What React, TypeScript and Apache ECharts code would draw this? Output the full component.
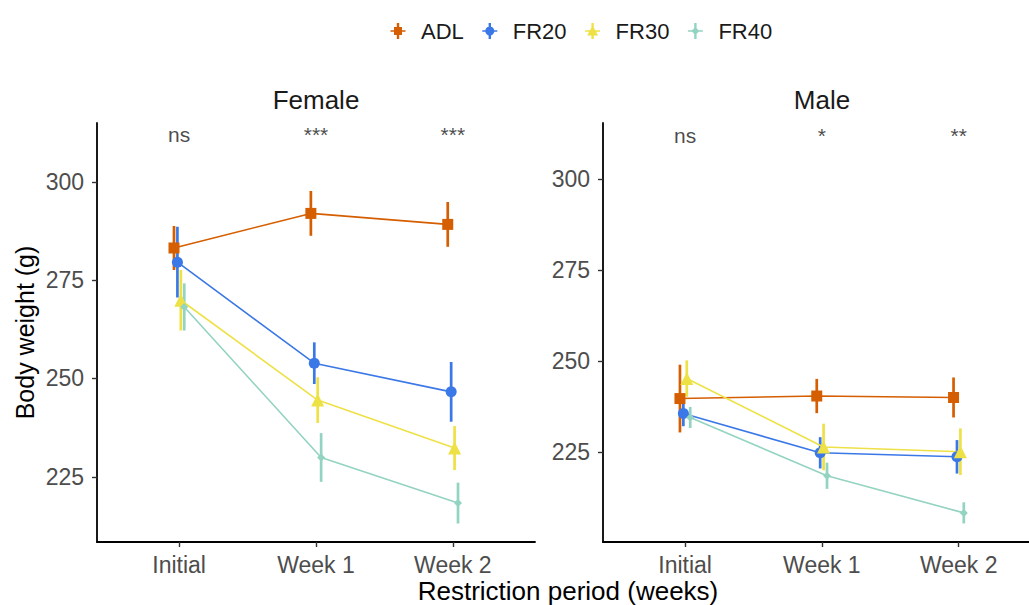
import React, { useEffect, useRef } from "react";
import * as echarts from "echarts";

const categories = ["Initial", "Week 1", "Week 2"];
const groups = ["ADL", "FR20", "FR30", "FR40"];
const yTicks = [225, 250, 275, 300];

// Female means and error half-widths
const femaleADL = [283.2, 292.0, 289.2];
const femaleADLErr = [5.6, 5.7, 5.7];
const femaleFR20 = [279.6, 253.9, 246.6];
const femaleFR20Err = [9.0, 5.3, 7.6];
const femaleFR30 = [269.9, 244.5, 232.3];
const femaleFR30Err = [7.7, 5.8, 5.6];
const femaleFR40 = [268.2, 229.9, 218.3];
const femaleFR40Err = [6.0, 6.2, 5.2];

// Male means and error half-widths
const maleADL = [239.8, 240.5, 240.1];
const maleADLErr = [9.3, 4.7, 5.5];
const maleFR20 = [235.7, 224.9, 223.8];
const maleFR20Err = [3.5, 4.3, 4.6];
const maleFR30 = [245.3, 226.5, 225.2];
const maleFR30Err = [5.0, 6.4, 6.4];
const maleFR40 = [234.6, 218.6, 208.4];
const maleFR40Err = [2.9, 3.6, 2.9];

// Significance labels
const femaleSig = ["ns", "***", "***"];
const maleSig = ["ns", "*", "**"];
const sigY = 312;

const COLORS = ["#D55E00", "#3B78E7", "#EEE145", "#93D3C1"];
const SYMBOLS = ["rect", "circle", "triangle", "diamond"];
const SIZES = [11, 11, 13, 8];
const DODGE = [-0.0375, -0.0125, 0.0125, 0.0375];
const FONT = "'Liberation Sans', Arial, Helvetica, sans-serif";

const ARMS = "M2.5 9.3 H17.5 V10.7 H2.5 Z M8.8 2 H11.2 V18 H8.8 Z ";
const BOX = "M0 0 H0.01 V0.01 H0 Z M19.99 19.99 H20 V20 H19.99 Z ";
const ICONS = [
  "path://" + BOX + ARMS + "M6 6 H14 V14 H6 Z",
  "path://" + BOX + ARMS + "M10 5.5 A4.5 4.5 0 1 1 9.99 5.5 Z",
  "path://" + BOX + ARMS + "M10 4.5 L15.5 14.5 L4.5 14.5 Z",
  "path://" + BOX + ARMS + "M10 6 L14 10 L10 14 L6 10 Z",
];

export default function App() {
  const ref = useRef<HTMLDivElement>(null);

  useEffect(() => {
    document.body.style.margin = "0";
    if (!ref.current) return;
    const chart = echarts.init(ref.current, undefined, { renderer: "svg" });

    const panels = [
      { means: [femaleADL, femaleFR20, femaleFR30, femaleFR40], errs: [femaleADLErr, femaleFR20Err, femaleFR30Err, femaleFR40Err], sig: femaleSig },
      { means: [maleADL, maleFR20, maleFR30, maleFR40], errs: [maleADLErr, maleFR20Err, maleFR30Err, maleFR40Err], sig: maleSig },
    ];

    const series: any[] = [];
    panels.forEach((panel, p) => {
      groups.forEach((g, gi) => {
        const m = panel.means[gi];
        const e = panel.errs[gi];
        series.push({
          type: "custom",
          name: g,
          xAxisIndex: p,
          yAxisIndex: p,
          z: 2,
          silent: true,
          itemStyle: { color: COLORS[gi] },
          encode: { x: 0, y: [1, 2] },
          data: categories.map((_, i) => [i + 1 + DODGE[gi], m[i] - e[i], m[i] + e[i]]),
          renderItem: (params: any, api: any) => {
            const x = api.value(0);
            const p1 = api.coord([x, api.value(1)]);
            const p2 = api.coord([x, api.value(2)]);
            return {
              type: "line",
              shape: { x1: p1[0], y1: p1[1], x2: p2[0], y2: p2[1] },
              style: { stroke: COLORS[gi], lineWidth: 2.7 },
            };
          },
        });
        series.push({
          type: "line",
          name: g,
          xAxisIndex: p,
          yAxisIndex: p,
          z: 3,
          symbol: SYMBOLS[gi],
          symbolSize: SIZES[gi],
          showAllSymbol: true,
          itemStyle: { color: COLORS[gi] },
          lineStyle: { color: COLORS[gi], width: 1.6 },
          data: categories.map((_, i) => [i + 1 + DODGE[gi], m[i]]),
        });
      });
      series.push({
        type: "scatter",
        name: "sig" + p,
        xAxisIndex: p,
        yAxisIndex: p,
        symbolSize: 1,
        silent: true,
        itemStyle: { color: "rgba(0,0,0,0)" },
        label: {
          show: true,
          position: "inside",
          formatter: "{b}",
          fontFamily: FONT,
          fontSize: 21,
          color: "#1a1a1a",
        },
        data: panel.sig.map((s, i) => ({ name: s, value: [i + 1, sigY] })),
      });
    });

    const yAxisBase = (min: number, max: number, gi: number) => ({
      type: "value",
      gridIndex: gi,
      min,
      max,
      splitLine: { show: false },
      axisLine: { show: true, lineStyle: { color: "#000", width: 1.8 } },
      axisTick: { show: true, length: 5, lineStyle: { color: "#333", width: 1.4 }, customValues: yTicks },
      axisLabel: { color: "#4D4D4D", fontSize: 23, fontFamily: FONT, margin: 13, customValues: yTicks },
    });

    const xAxisBase = (max: number, gi: number) => ({
      type: "value",
      gridIndex: gi,
      min: 0.4,
      max,
      splitLine: { show: false },
      axisLine: { show: true, onZero: false, lineStyle: { color: "#000", width: 1.8 } },
      axisTick: { show: true, length: 5, lineStyle: { color: "#333", width: 1.4 }, customValues: [1, 2, 3] },
      axisLabel: {
        color: "#4D4D4D",
        fontSize: 23,
        fontFamily: FONT,
        margin: 11,
        customValues: [1, 2, 3],
        formatter: (v: number) => categories[Math.round(v) - 1] ?? "",
      },
    });

    chart.setOption({
      animation: false,
      color: COLORS,
      textStyle: { fontFamily: FONT },
      legend: {
        left: 383,
        top: 15,
        itemWidth: 20,
        itemHeight: 20,
        itemGap: 16,
        textStyle: { fontSize: 22, color: "#1a1a1a", fontFamily: FONT, padding: [0, 0, 0, 8] },
        data: groups.map((g, gi) => ({ name: g, icon: ICONS[gi] })),
      },
      grid: [
        { left: 97, top: 123, width: 438, height: 419 },
        { left: 603, top: 123, width: 426, height: 419 },
      ],
      xAxis: [xAxisBase(3.6, 0), xAxisBase(3.514, 1)],
      yAxis: [
        {
          ...yAxisBase(208.4, 315, 0),
          name: "Body weight (g)",
          nameLocation: "middle",
          nameGap: 60,
          nameTextStyle: { fontSize: 25, color: "#000", fontFamily: FONT },
        },
        yAxisBase(200.4, 315.5, 1),
      ],
      graphic: [
        {
          type: "text",
          x: 316,
          y: 100,
          style: { text: "Female", fontSize: 26, fontFamily: FONT, fill: "#1a1a1a", align: "center", verticalAlign: "middle" },
        },
        {
          type: "text",
          x: 822,
          y: 100,
          style: { text: "Male", fontSize: 26, fontFamily: FONT, fill: "#1a1a1a", align: "center", verticalAlign: "middle" },
        },
        {
          type: "text",
          x: 568,
          y: 591,
          style: { text: "Restriction period (weeks)", fontSize: 26, fontFamily: FONT, fill: "#000", align: "center", verticalAlign: "middle" },
        },
      ],
      series,
    });

    return () => chart.dispose();
  }, []);

  return <div ref={ref} style={{ width: 1029, height: 605 }} />;
}
